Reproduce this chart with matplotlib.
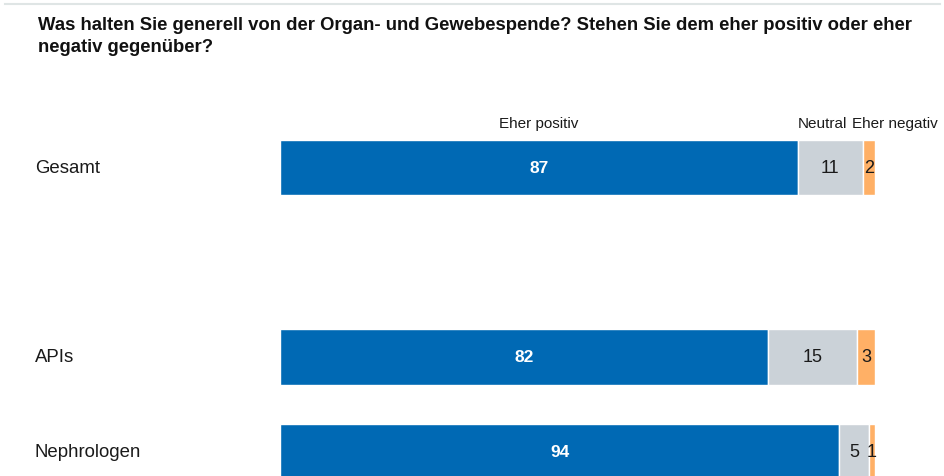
import matplotlib
matplotlib.use("Agg")
import matplotlib.pyplot as plt
from matplotlib.lines import Line2D

plt.rcParams['font.family'] = ['Liberation Sans', 'DejaVu Sans']

title_lines = ["Was halten Sie generell von der Organ- und Gewebespende? Stehen Sie dem eher positiv oder eher",
               "negativ gegenüber?"]
categories = ["Gesamt", "APIs", "Nephrologen"]
slots = [0, 2, 3]
series_names = ["Eher positiv", "Neutral", "Eher negativ"]
positiv = [87, 82, 94]
neutral = [11, 15, 5]
negativ = [2, 3, 1]
colors = ["#0069b4", "#cbd2d8", "#ffb066"]

W, H = 945, 477
fig = plt.figure(figsize=(W / 100, H / 100), dpi=100)

unit = 94.75
center0 = 168.5
ax = fig.add_axes([280 / W, 0, (875 - 280) / W, 1])
ax.set_xlim(0, 100)
ax.set_ylim((H - center0) / unit, -center0 / unit)
ax.axis('off')

bh = 0.585
left = [0] * 3
for vals, col, idx in zip([positiv, neutral, negativ], colors, range(3)):
    ax.barh(slots, vals, left=left, height=bh, color=col, edgecolor='white', linewidth=1.0)
    for y, v, l in zip(slots, vals, left):
        if idx == 0:
            ax.text(l + v / 2, y, str(v), ha='center', va='center', color='white',
                    fontsize=12.5, fontweight='bold')
        else:
            ax.text(l + v / 2, y, str(v), ha='center', va='center', color='#1a1a1a',
                    fontsize=13)
    left = [a + b for a, b in zip(left, vals)]

# header labels over the first bar
hy = (131 - center0) / unit
ax.text(positiv[0] / 2, hy, series_names[0], ha='center', va='bottom', fontsize=11, color='#1a1a1a')
ax.text((positiv[0] + neutral[0] / 2) - 1.3, hy, series_names[1], ha='center', va='bottom', fontsize=11, color='#1a1a1a')
ax.text(96.2, hy, series_names[2], ha='left', va='bottom', fontsize=11, color='#1a1a1a', clip_on=False)

# category labels
for y, c in zip(slots, categories):
    fig.text(35 / W, 1 - (center0 + y * unit) / H, c, ha='left', va='center', fontsize=13.4, color='#1a1a1a')

for i, line in enumerate(title_lines):
    fig.text(38 / W, 1 - (30 + i * 21.7) / H, line, ha='left', va='baseline', fontsize=13.3,
             fontweight='bold', color='#111111')

fig.add_artist(Line2D([5 / W, 940 / W], [1 - 5 / H, 1 - 5 / H], color='#dfe5e5', linewidth=1.5))

fig.savefig("out.png", dpi=100)
